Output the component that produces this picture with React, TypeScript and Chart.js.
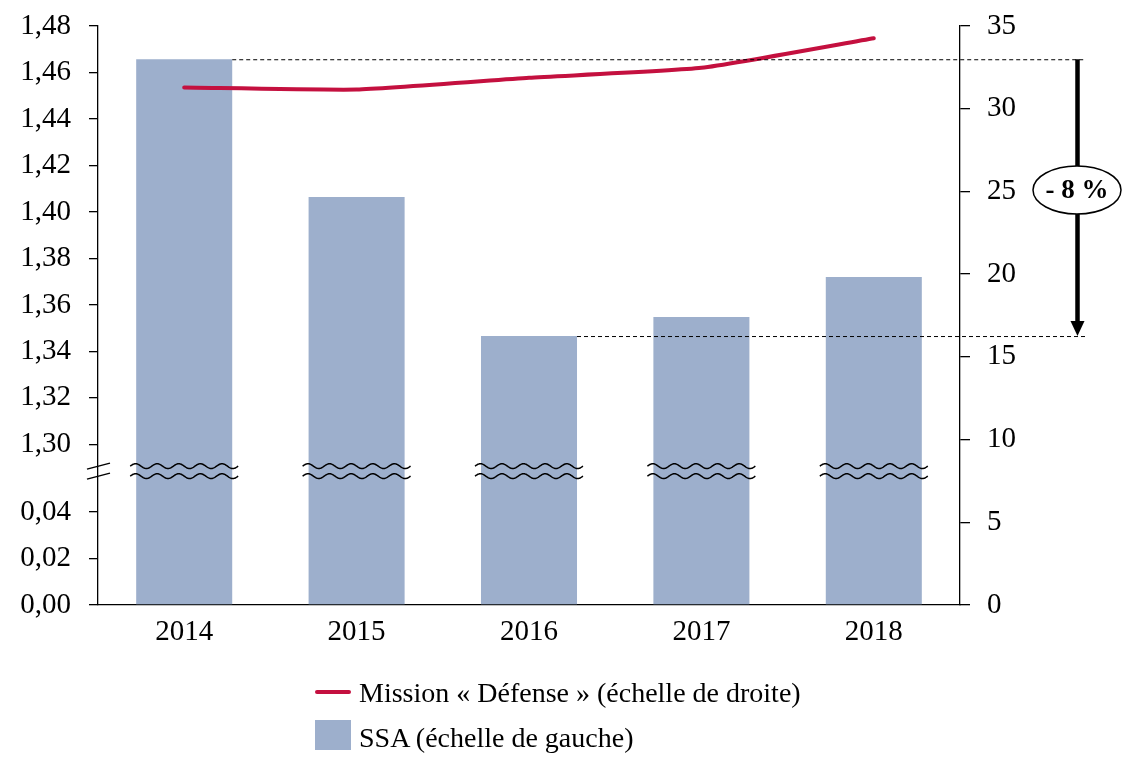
import React, { useEffect, useRef } from "react";
import { Chart, registerables } from "chart.js";

Chart.register(...registerables);

// ---- Data ----
const years = ["2014", "2015", "2016", "2017", "2018"];
// SSA (left scale, broken axis)
const ssaValues = [1.4657, 1.4064, 1.3466, 1.3548, 1.372];
// Mission « Défense » (right scale)
const defenseValues = [31.28, 31.16, 31.87, 32.47, 34.26];
// Left axis tick values and labels
const leftTickValues = [0, 0.02, 0.04, 1.3, 1.32, 1.34, 1.36, 1.38, 1.4, 1.42, 1.44, 1.46, 1.48];
const leftTickLabels = ["0,00", "0,02", "0,04", "1,30", "1,32", "1,34", "1,36", "1,38", "1,40", "1,42", "1,44", "1,46", "1,48"];
// Right axis
const rightMin = 0;
const rightMax = 35;
const rightStep = 5;
const changeLabel = "- 8 %";
const lineLabel = "Mission « Défense » (échelle de droite)";
const barLabel = "SSA (échelle de gauche)";

// Broken-axis mapping: lower segment 0..0.04, upper segment 1.30..1.48
const STEP = 0.02;
const UPPER_START = 3.456; // virtual position of 1,30
const BREAK_VIRTUAL = 2.88;
const toVirtual = (v: number) => (v < 0.5 ? v / STEP : UPPER_START + (v - 1.3) / STEP);
const VIRTUAL_MAX = toVirtual(1.48);

const RED = "#C4103F";
const BLUE = "#9DAFCC";
const FONT = "'Liberation Serif', 'Times New Roman', serif";

function drawWave(ctx: CanvasRenderingContext2D, x0: number, x1: number, y: number) {
  const A = 2.4;
  const P = 21.6;
  ctx.beginPath();
  for (let x = x0; x <= x1; x += 0.5) {
    const yy = y - A * Math.sin((2 * Math.PI * (x - x0)) / P);
    if (x === x0) ctx.moveTo(x, yy);
    else ctx.lineTo(x, yy);
  }
  ctx.stroke();
}

const annotations = {
  id: "annotations",
  afterDatasetsDraw(chart: any) {
    const ctx: CanvasRenderingContext2D = chart.ctx;
    const yL = chart.scales.y;
    const barMeta = chart.getDatasetMeta(1);
    const brk = yL.getPixelForValue(BREAK_VIRTUAL);
    ctx.save();
    ctx.strokeStyle = "#000";
    ctx.fillStyle = "#000";

    // wavy break lines over bars
    ctx.lineWidth = 1.5;
    barMeta.data.forEach((bar: any) => {
      const half = bar.width / 2 + 6;
      drawWave(ctx, bar.x - half, bar.x + half, brk - 5);
      drawWave(ctx, bar.x - half, bar.x + half, brk + 5);
    });

    // axis break marks
    const ax = yL.right;
    [-5, 5].forEach((off) => {
      ctx.beginPath();
      ctx.moveTo(ax - 11, brk + off + 3);
      ctx.lineTo(ax + 12, brk + off - 3);
      ctx.stroke();
    });

    // dashed reference lines
    const hi = barMeta.data[0];
    const lo = barMeta.data[2];
    const xEnd = 1085;
    ctx.lineWidth = 1;
    ctx.setLineDash([4, 3]);
    ctx.beginPath();
    ctx.moveTo(hi.x + hi.width / 2, hi.y + 0.5);
    ctx.lineTo(xEnd, hi.y + 0.5);
    ctx.moveTo(lo.x + lo.width / 2, lo.y + 0.5);
    ctx.lineTo(xEnd, lo.y + 0.5);
    ctx.stroke();
    ctx.setLineDash([]);

    // arrow
    const axr = 1077.5;
    ctx.lineWidth = 4.5;
    ctx.beginPath();
    ctx.moveTo(axr, hi.y);
    ctx.lineTo(axr, lo.y - 12);
    ctx.stroke();
    ctx.beginPath();
    ctx.moveTo(axr - 7, lo.y - 15);
    ctx.lineTo(axr + 7, lo.y - 15);
    ctx.lineTo(axr, lo.y);
    ctx.closePath();
    ctx.fill();

    // ellipse label
    const cy = 190;
    ctx.beginPath();
    ctx.ellipse(axr - 0.5, cy, 44, 24, 0, 0, Math.PI * 2);
    ctx.fillStyle = "#fff";
    ctx.fill();
    ctx.lineWidth = 1.5;
    ctx.stroke();
    ctx.fillStyle = "#000";
    ctx.font = `bold 27px ${FONT}`;
    ctx.textAlign = "center";
    ctx.textBaseline = "middle";
    ctx.fillText(changeLabel, axr - 0.5, cy + 1);
    ctx.restore();
  },
};

const noPad = (s: any) => {
  s.paddingTop = 0;
  s.paddingBottom = 0;
  s.paddingLeft = 0;
  s.paddingRight = 0;
};

export default function App() {
  const ref = useRef<HTMLCanvasElement>(null);

  useEffect(() => {
    const canvas = ref.current!;
    const chart = new Chart(canvas, {
      type: "bar",
      data: {
        labels: years,
        datasets: [
          {
            type: "line",
            label: lineLabel,
            data: defenseValues,
            yAxisID: "y1",
            borderColor: RED,
            backgroundColor: RED,
            borderWidth: 4,
            pointRadius: 0,
            tension: 0.15,
            borderCapStyle: "round",
            order: 0,
          } as any,
          {
            type: "bar",
            label: barLabel,
            data: ssaValues.map(toVirtual),
            yAxisID: "y",
            backgroundColor: BLUE,
            borderWidth: 0,
            barPercentage: 0.557,
            categoryPercentage: 1,
            order: 1,
          } as any,
        ],
      },
      options: {
        responsive: false,
        animation: false,
        layout: { padding: { top: 26, left: 0, right: 0, bottom: 0 } },
        plugins: {
          legend: { display: false },
          tooltip: { enabled: false },
        },
        scales: {
          x: {
            grid: { display: false, drawTicks: false },
            border: { display: true, color: "#000", width: 1.3 },
            ticks: {
              color: "#000",
              font: { family: FONT, size: 29 },
              padding: 10,
              maxRotation: 0,
            },
            afterFit: (s: any) => {
              s.height = 167;
              noPad(s);
            },
          },
          y: {
            type: "linear",
            position: "left",
            min: 0,
            max: VIRTUAL_MAX,
            grid: {
              display: true,
              drawOnChartArea: false,
              drawTicks: true,
              tickLength: 9,
              color: "#000",
              lineWidth: 1.3,
            },
            border: { display: true, color: "#000", width: 1.3 },
            ticks: {
              color: "#000",
              font: { family: FONT, size: 29 },
              padding: 18,
              autoSkip: false,
              callback: (_v: any, i: number) => leftTickLabels[i],
            },
            afterBuildTicks: (s: any) => {
              s.ticks = leftTickValues.map((v) => ({ value: toVirtual(v) }));
            },
            afterFit: (s: any) => {
              s.width = 98;
              noPad(s);
            },
          },
          y1: {
            type: "linear",
            position: "right",
            min: rightMin,
            max: rightMax,
            grid: {
              display: true,
              drawOnChartArea: false,
              drawTicks: true,
              tickLength: 10,
              color: "#000",
              lineWidth: 1.3,
            },
            border: { display: true, color: "#000", width: 1.3 },
            ticks: {
              color: "#000",
              font: { family: FONT, size: 29 },
              padding: 17,
              stepSize: rightStep,
              autoSkip: false,
            },
            afterFit: (s: any) => {
              s.width = 168;
              noPad(s);
            },
          },
        },
      } as any,
      plugins: [annotations],
    });
    return () => chart.destroy();
  }, []);

  const textStyle: React.CSSProperties = {
    position: "absolute",
    left: 359,
    fontFamily: FONT,
    fontSize: 28,
    color: "#000",
    whiteSpace: "nowrap",
    height: 34,
    lineHeight: "34px",
  };

  return (
    <div style={{ position: "fixed", left: 0, top: 0, width: 1128, height: 772, background: "#fff" }}>
      <canvas ref={ref} width={1128} height={772} style={{ display: "block" }} />
      <div style={{ position: "absolute", left: 315, top: 690, width: 36, height: 4, background: RED, borderRadius: 2 }} />
      <div style={{ ...textStyle, top: 676 }}>{lineLabel}</div>
      <div style={{ position: "absolute", left: 315, top: 720, width: 36, height: 30, background: BLUE }} />
      <div style={{ ...textStyle, top: 721 }}>{barLabel}</div>
    </div>
  );
}
